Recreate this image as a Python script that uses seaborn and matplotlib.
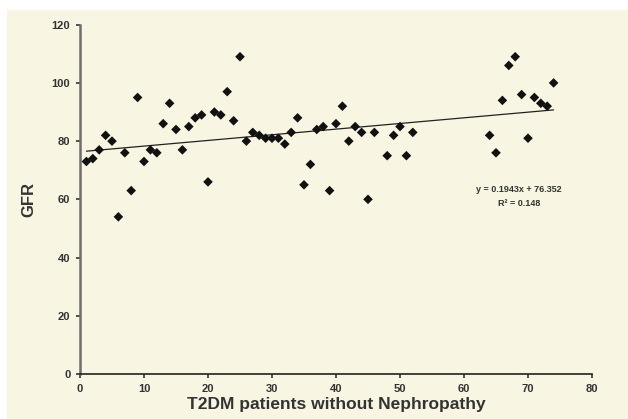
import numpy as np
import pandas as pd
import matplotlib
matplotlib.use("Agg")
import matplotlib.pyplot as plt
import seaborn as sns
from matplotlib.patches import Rectangle

# ---- data ----
patient = [1, 2, 3, 4, 5, 6, 7, 8, 9, 10, 11, 12, 13, 14, 15, 16, 17, 18, 19, 20,
           21, 22, 23, 24, 25, 26, 27, 28, 29, 30, 31, 32, 33, 34, 35, 36, 37, 38, 39, 40,
           41, 42, 43, 44, 45, 46, 48, 49, 50, 51, 52,
           64, 65, 66, 67, 68, 69, 70, 71, 72, 73, 74]
gfr = [73, 74, 77, 82, 80, 54, 76, 63, 95, 73, 77, 76, 86, 93, 84, 77, 85, 88, 89, 66,
       90, 89, 97, 87, 109, 80, 83, 82, 81, 81, 81, 79, 83, 88, 65, 72, 84, 85, 63, 86,
       92, 80, 85, 83, 60, 83, 75, 82, 85, 75, 83,
       82, 76, 94, 106, 109, 96, 81, 95, 93, 92, 100]
slope = 0.1943
intercept = 76.352
r_squared = 0.148
x_ticks = [0, 10, 20, 30, 40, 50, 60, 70, 80]
y_ticks = [0, 20, 40, 60, 80, 100, 120]
x_label = "T2DM patients without Nephropathy"
y_label = "GFR"

df = pd.DataFrame({"patient": patient, "gfr": gfr})
trend_x = [min(patient), max(patient)]
trend = pd.DataFrame({"x": trend_x, "y": [slope * v + intercept for v in trend_x]})

sns.set_theme(style="white")
plt.rcParams["font.family"] = ["Liberation Sans", "DejaVu Sans"]

W, H = 628, 419
fig = plt.figure(figsize=(W / 100, H / 100), dpi=100)
fig.patch.set_facecolor("white")
bg = "#F8F6E2"
fig.patches.append(Rectangle((7 / W, 0), 1 - 7 / W, 1 - 10 / H, transform=fig.transFigure,
                             facecolor=bg, edgecolor="none", zorder=-10))

ax = fig.add_axes([80 / W, (H - 374) / H, (592 - 80) / W, (374 - 24.7) / H])
ax.set_facecolor(bg)

sns.lineplot(data=trend, x="x", y="y", ax=ax, color="#222222", linewidth=0.9, zorder=2)
sns.scatterplot(data=df, x="patient", y="gfr", ax=ax, marker="D", s=24,
                color="#111111", edgecolor="none", zorder=3)

ax.set_xlim(0, 80)
ax.set_ylim(0, 120)
ax.set_xticks(x_ticks)
ax.set_yticks(y_ticks)
ax.set_xticklabels([str(v) for v in x_ticks], fontsize=8, fontweight="bold", color="#333333")
ax.set_yticklabels([str(v) for v in y_ticks], fontsize=8, fontweight="bold", color="#333333")
ax.tick_params(axis="both", which="major", length=3, width=1.2, color="#333333",
               direction="out", pad=4, left=True, bottom=True)

for s in ["top", "right"]:
    ax.spines[s].set_visible(False)
ax.spines["left"].set_color("#6e6e6e")
ax.spines["left"].set_linewidth(1.8)
ax.spines["bottom"].set_color("#222222")
ax.spines["bottom"].set_linewidth(1.2)

ax.set_xlabel(x_label, fontsize=12.5, fontweight="bold", color="#333333", labelpad=2)
ax.set_ylabel(y_label, fontsize=12, fontweight="bold", color="#333333", labelpad=11)

ax.text(68.6, 63.5, f"y = {slope}x + {intercept}", ha="center", va="center",
        fontsize=6.5, fontweight="bold", color="#333333")
ax.text(68.6, 58.7, f"R² = {r_squared}", ha="center", va="center",
        fontsize=6.5, fontweight="bold", color="#333333")

fig.savefig("out.png", dpi=100, facecolor=fig.get_facecolor())
